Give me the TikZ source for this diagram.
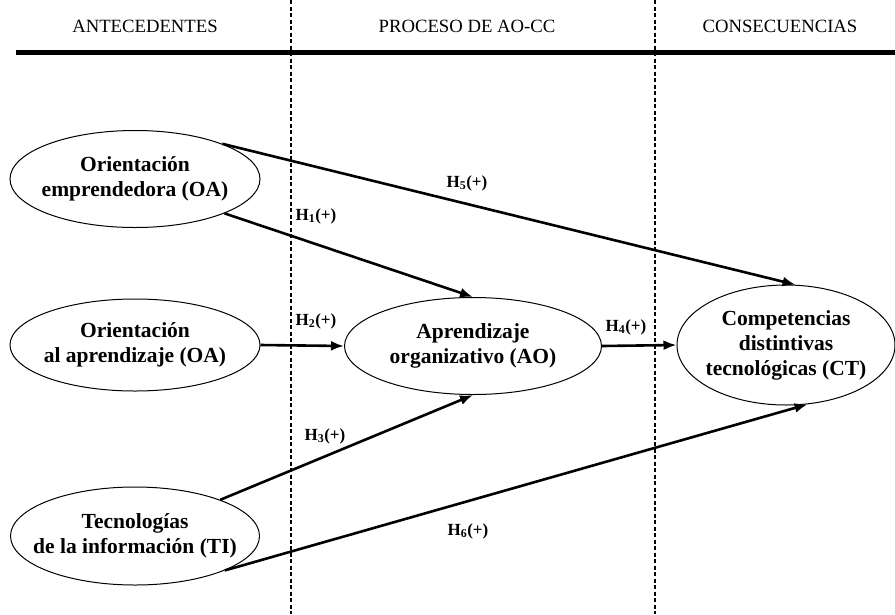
\documentclass[tikz,border=0pt]{standalone}
\usepackage{fontspec}
\setmainfont{Liberation Serif}
\usetikzlibrary{shapes.geometric,arrows.meta}
\begin{document}
\begin{tikzpicture}[x=1pt,y=-1pt,
  construct/.style={ellipse,draw,line width=1pt,inner xsep=-16pt,inner ysep=0pt,
    align=center,font=\fontsize{21.5}{25}\selectfont\bfseries},
  head/.style={font=\fontsize{18.7}{22}\selectfont,anchor=base},
  hyp/.style={font=\fontsize{17}{20}\selectfont\bfseries,inner sep=0pt},
  rel/.style={line width=2.6pt,-{Latex[length=13pt,width=10pt]}},
  divider/.style={line width=1.4pt,dash pattern=on 4pt off 2.5pt}]
\useasboundingbox (0,0) rectangle (895,614);
% headers
\node[head] (h1) at (145,32) {ANTECEDENTES};
\node[head] (h2) at (467,32) {PROCESO DE AO-CC};
\node[head] (h3) at (780,32) {CONSECUENCIAS};
\coordinate (la) at (16,52);
\coordinate (lb) at (895,52);
\draw[line width=5pt] (la) -- (lb);
\coordinate (d1t) at (291,0); \coordinate (d1b) at (291,614);
\coordinate (d2t) at (655,0); \coordinate (d2b) at (655,614);
\draw[divider] (d1t) -- (d1b);
\draw[divider] (d2t) -- (d2b);
% constructs
\node[construct,minimum width=250pt,minimum height=97pt] (oe) at (135,179) {Orientación\\emprendedora (OA)};
\node[construct,minimum width=250pt,minimum height=92pt] (oa) at (135,345) {Orientación\\al aprendizaje (OA)};
\node[construct,minimum width=249pt,minimum height=98pt] (ti) at (135,536) {Tecnologías\\de la información (TI)};
\node[construct,minimum width=257pt,minimum height=97pt] (ao) at (473,346) {Aprendizaje\\organizativo (AO)};
\node[construct,minimum width=218pt,minimum height=120pt] (ct) at (786,345) {Competencias\\distintivas\\tecnológicas (CT)};
% relations
\draw[rel] (oe.22) -- (ct.81);
\draw[rel] (oe.-21) -- (ao.north);
\draw[rel] (oa.east) -- (ao.west);
\draw[rel] (ao.east) -- (ct.west);
\draw[rel] (ti.23) -- (ao.south);
\draw[rel] (ti.-21) -- (ct.-70);
% labels
\node[hyp] (l5) at (467,183) {H\textsubscript{5}(+)};
\node[hyp] (l1) at (316,216) {H\textsubscript{1}(+)};
\node[hyp] (l2) at (316,321) {H\textsubscript{2}(+)};
\node[hyp] (l4) at (626,327) {H\textsubscript{4}(+)};
\node[hyp] (l3) at (325,436) {H\textsubscript{3}(+)};
\node[hyp] (l6) at (468,531) {H\textsubscript{6}(+)};
\end{tikzpicture}
\end{document}
